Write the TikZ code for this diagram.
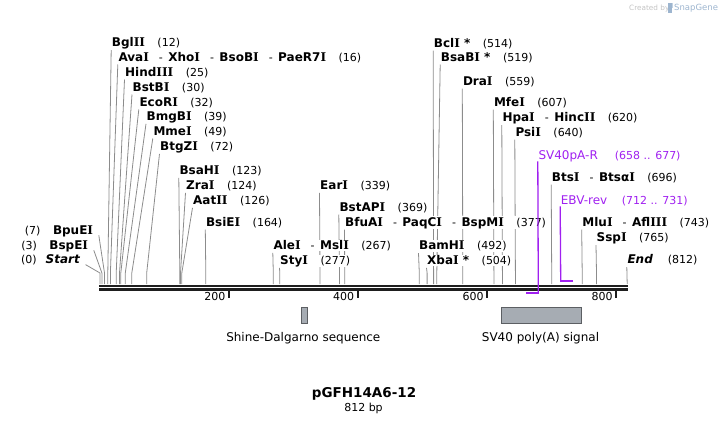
\documentclass[tikz,border=0pt]{standalone}
\usepackage{fontspec}
\setmainfont{DejaVu Sans}
\newfontfamily\serifI{DejaVu Serif}
\usetikzlibrary{backgrounds}
\definecolor{cutline}{HTML}{8C8C8C}
\definecolor{primer}{HTML}{A020F0}
\definecolor{featfill}{HTML}{A6ACB3}
\definecolor{featdraw}{HTML}{5C5F63}
\definecolor{bb}{HTML}{1E1E1E}
\definecolor{wm}{HTML}{C4C4C4}
\definecolor{wmblue}{HTML}{9DB5CF}
\newcommand\I{{\serifI\bfseries I}}
\newcommand\nm[1]{{\fontsize{12}{14}\selectfont\bfseries #1}}
\newcommand\gp{\hspace{12.5pt}}
\newcommand\sep{\hspace{10pt}-\hspace{5.5pt}}
\begin{document}
\begin{tikzpicture}[x=1pt,y=-1pt,
  every node/.style={font=\fontsize{11}{13}\selectfont},
  lab/.style={anchor=base west, inner sep=0.5pt, fill=white, text=black},
  labr/.style={anchor=base east, inner sep=0.5pt, fill=white, text=black},
  plab/.style={anchor=base west, inner sep=0.5pt, text=primer},
  cut/.style={draw=cutline, line width=0.8pt},
  primv/.style={draw=primer, line width=1.3pt},
  primh/.style={draw=primer, line width=1.9pt},
  feat/.style={draw=featdraw, fill=featfill, line width=0.8pt, inner sep=0pt, minimum height=16pt},
  tick/.style={draw=bb, line width=2pt},
  ticklab/.style={anchor=base east, inner sep=0pt},
  featlab/.style={anchor=base, inner sep=0pt, font=\fontsize{12}{14}\selectfont}
]
\useasboundingbox (0,0) rectangle (727,423);

% backbone
\draw[bb, line width=2.4pt] (99,285.8) -- (627.6,285.8);
\draw[bb, line width=2.2pt] (99,289.4) -- (627.6,289.4);
\draw[tick] (229.3,290.5) -- (229.3,298.3);
\draw[tick] (357.8,290.5) -- (357.8,298.3);
\draw[tick] (487.3,290.5) -- (487.3,298.3);
\draw[tick] (616.2,290.5) -- (616.2,298.3);
\node[ticklab] (n200) at (225.5,300.7) {200};
\node[ticklab] (n400) at (354.2,300.7) {400};
\node[ticklab] (n600) at (483.8,300.7) {600};
\node[ticklab] (n800) at (612.8,300.7) {800};

% enzyme labels
\node[lab] (t1) at (111.2,46.5) {\nm{Bgl\I\I}\gp(12)};
\node[lab] (t2) at (117.8,61.0) {\nm{Ava\I}\sep\nm{Xho\I}\sep\nm{BsoB\I}\sep\nm{PaeR7\I}\gp(16)};
\node[lab] (t3) at (124.5,76.0) {\nm{Hind\I\I\I}\gp(25)};
\node[lab] (t4) at (132.0,91.0) {\nm{BstB\I}\gp(30)};
\node[lab] (t5) at (138.8,106.0) {\nm{EcoR\I}\gp(32)};
\node[lab] (t6) at (146.0,120.3) {\nm{BmgB\I}\gp(39)};
\node[lab] (t7) at (152.8,135.0) {\nm{Mme\I}\gp(49)};
\node[lab] (t8) at (159.5,150.3) {\nm{BtgZ\I}\gp(72)};
\node[lab] (t9) at (178.8,174.3) {\nm{BsaH\I}\gp(123)};
\node[lab] (t10) at (185.5,189.3) {\nm{Zra\I}\gp(124)};
\node[lab] (t11) at (192.5,204.3) {\nm{Aat\I\I}\gp(126)};
\node[lab] (t12) at (205.3,226.0) {\nm{BsiE\I}\gp(164)};
\node[lab] (t13) at (272.8,249.3) {\nm{Ale\I}\sep\nm{Msl\I}\gp(267)};
\node[lab] (t14) at (279.5,264.3) {\nm{Sty\I}\gp(277)};
\node[lab] (t15) at (319.5,189.3) {\nm{Ear\I}\gp(339)};
\node[lab] (t16) at (338.8,211.0) {\nm{BstAP\I}\gp(369)};
\node[lab] (t17) at (344.5,226.0) {\nm{BfuA\I}\sep\nm{PaqC\I}\sep\nm{BspM\I}\gp(377)};
\node[lab] (t18) at (418.5,249.6) {\nm{BamH\I}\gp(492)};
\node[lab] (t19) at (426.5,264.3) {\nm{Xba\I\ *}\gp(504)};
\node[lab] (t20) at (433.2,47.0) {\nm{Bcl\I\ *}\gp(514)};
\node[lab] (t21) at (440.2,61.0) {\nm{BsaB\I\ *}\gp(519)};
\node[lab] (t22) at (462.3,85.0) {\nm{Dra\I}\gp(559)};
\node[lab] (t23) at (493.3,106.0) {\nm{Mfe\I}\gp(607)};
\node[lab] (t24) at (501.8,121.6) {\nm{Hpa\I}\sep\nm{Hinc\I\I}\gp(620)};
\node[lab] (t25) at (514.8,136.0) {\nm{Psi\I}\gp(640)};
\node[lab] (t26) at (551.2,181.0) {\nm{Bts\I}\sep\nm{Btsα\I}\gp(696)};
\node[lab] (t27) at (581.7,226.0) {\nm{Mlu\I}\sep\nm{Afl\I\I\I}\gp(743)};
\node[lab] (t28) at (596.0,241.6) {\nm{Ssp\I}\gp(765)};
\node[lab] (t29) at (626.8,263.6) {\nm{\itshape End}\hspace{15pt}(812)};
\node[labr] (l1) at (93.8,234.3) {(7)\gp\nm{BpuE\I}};
\node[labr] (l2) at (88.8,249.3) {(3)\gp\nm{BspE\I}};
\node[labr] (l3) at (80.5,263.6) {(0)\hspace{9pt}\nm{\itshape Start}};

% enzyme connectors
\begin{scope}[on background layer]
\foreach \n/\s in {t1/107.8, t2/110.4, t3/116.2, t4/119.5, t5/120.8, t6/125.3,
  t7/131.8, t8/146.7, t9/179.8, t10/180.5, t11/181.8, t12/205.8, t13/273.3,
  t14/279.8, t15/320.0, t16/339.5, t17/344.7, t18/419.3, t19/427.1, t20/433.6,
  t21/436.8, t22/462.8, t23/493.9, t24/502.4, t25/515.4, t26/551.7, t27/582.2,
  t28/596.5}{
  \coordinate (k\n) at (\s,273);
  \coordinate (b\n) at (\s,284);
  \draw[cut] ([yshift=-3.5pt]\n.base west) -- (k\n) -- (b\n);
}
\coordinate (bt29) at (627.2,284);
\draw[cut] ([yshift=-3.5pt]t29.base west) -- (bt29);
\foreach \n/\s in {l1/104.5, l2/101.9, l3/100.0}{
  \coordinate (k\n) at (\s,273);
  \coordinate (b\n) at (\s,284);
  \draw[cut] ([shift={(5pt,-1pt)}]\n.base east) -- (k\n) -- (b\n);
}
\end{scope}

% primers
\node[plab] (p1) at (537.8,159.3) {{\fontsize{12}{14}\selectfont SV40pA-R}\hspace{17pt}(658 .. 677)};
\node[plab] (p2) at (560.2,204.3) {{\fontsize{12}{14}\selectfont EBV-rev}\hspace{14.5pt}(712 .. 731)};
\coordinate (p1c) at (538.3,293.3);
\coordinate (p1e) at (526.0,293.3);
\coordinate (p2c) at (560.7,280.8);
\coordinate (p2e) at (572.7,280.8);
\draw[primv] ([yshift=-2pt]p1.base west) -- (p1c);
\draw[primh] ([xshift=0.65pt]p1c) -- (p1e);
\draw[primv] ([yshift=-2pt]p2.base west) -- (p2c);
\draw[primh] ([xshift=-0.65pt]p2c) -- (p2e);

% features
\node[feat, minimum width=6.7pt] (f1) at (304.4,315.3) {};
\node[feat, minimum width=80.7pt] (f2) at (541.3,315.3) {};
\node[featlab] (f1l) at (303.3,341.5) {Shine-Dalgarno sequence};
\node[featlab] (f2l) at (540.5,341.5) {SV40 poly(A) signal};

% title
\node[anchor=base, inner sep=0pt, font=\fontsize{13.5}{16}\selectfont\bfseries] (title) at (364,397.2) {pGFH14A6-12};
\node[anchor=base, inner sep=0pt] (len) at (363.5,411) {812 bp};

% watermark
\node[anchor=base west, inner sep=0pt, text=wm, font=\fontsize{7.3}{8}\selectfont] (wm1) at (629,10) {Created by};
\fill[wmblue] (668.3,2.5) rectangle (671.6,12.5);
\fill[wmblue!60] (671.6,2.5) rectangle (673.0,7.5);
\node[anchor=base west, inner sep=0pt, text=wmblue, font=\fontsize{8.5}{10}\selectfont] (wm2) at (674,10.5) {SnapGene};
\end{tikzpicture}
\end{document}
